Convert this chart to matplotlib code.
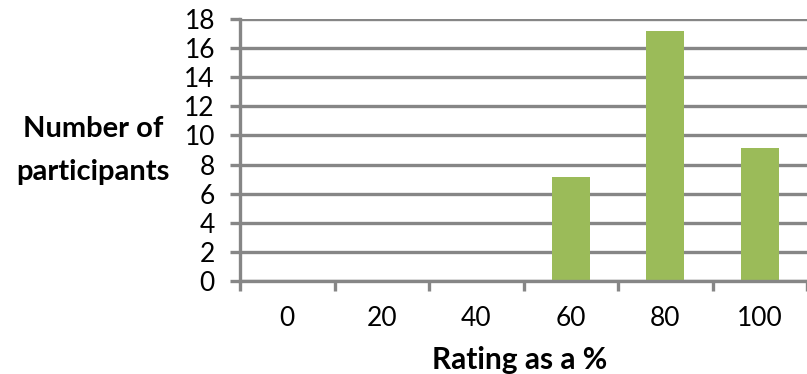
import numpy as np
import matplotlib
matplotlib.use("Agg")
import matplotlib.pyplot as plt

# values
ratings = ["0", "20", "40", "60", "80", "100"]
participants = [0, 0, 0, 7.15, 17.15, 9.15]
y_ticks = [0, 2, 4, 6, 8, 10, 12, 14, 16, 18]

bar_color = "#9BBB59"
grid_color = "#868686"

plt.rcParams['font.family'] = ['Lato', 'DejaVu Sans']

W, H = 807, 374
fig = plt.figure(figsize=(W / 100, H / 100), dpi=100)
# plot area in pixels: left 240, right 807, top 19, bottom 281
ax = fig.add_axes([240 / W, 1 - 281 / H, (807 - 240) / W, (281 - 19) / H])

x = np.arange(len(ratings))
ax.bar(x, participants, width=0.4, color=bar_color, zorder=3)

ax.set_ylim(0, 18)
ax.set_xlim(-0.5, -0.5 + 567 / 95)
ax.set_yticks(y_ticks)
ax.yaxis.grid(True, color=grid_color, linewidth=2.4, zorder=1)
ax.tick_params(axis='y', length=7, width=2.4, color=grid_color, pad=11, labelsize=19)

# category boundaries get the tick marks, centres get the labels
ax.set_xticks(np.arange(-0.5, len(ratings) + 0.5, 1.0))
ax.set_xticklabels([])
ax.set_xticks(x, minor=True)
ax.set_xticklabels(ratings, minor=True)
ax.tick_params(axis='x', which='major', length=7, width=2.4, color=grid_color)
ax.tick_params(axis='x', which='minor', length=0, pad=18, labelsize=19)

for s in ['top', 'right']:
    ax.spines[s].set_visible(False)
for s in ['left', 'bottom']:
    ax.spines[s].set_color(grid_color)
    ax.spines[s].set_linewidth(2.4)
    ax.spines[s].set_zorder(4)

fig.text(93 / W, 1 - 129 / H, "Number of", ha='center', va='center',
         fontsize=21, fontweight='bold')
fig.text(93 / W, 1 - 172 / H, "participants", ha='center', va='center',
         fontsize=21, fontweight='bold')
fig.text(520 / W, 1 - 360 / H, "Rating as a %", ha='center', va='center',
         fontsize=21.5, fontweight='bold')

fig.savefig("out.png", dpi=100)
